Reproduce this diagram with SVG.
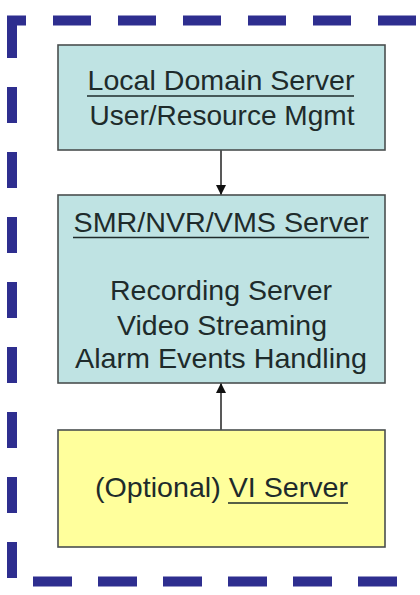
<svg xmlns="http://www.w3.org/2000/svg" width="420" height="595" viewBox="0 0 420 595">
<defs>
<style>
.frame{fill:none;stroke:#2e2e8f;stroke-width:10}
.box{stroke:#4a4f4f;stroke-width:1.6}
.cyan{fill:#bfe3e3}
.yellow{fill:#ffff9c}
.t{font-family:"Liberation Sans",Arial,sans-serif;font-size:28px;fill:#1e2b2b;text-anchor:middle}
.u{stroke:#1e2b2b;stroke-width:1.6}
.conn{stroke:#222;stroke-width:1.5;fill:none}
</style>
<marker id="ah" viewBox="0 0 10 10" refX="10" refY="5" markerWidth="10" markerHeight="10" markerUnits="userSpaceOnUse" orient="auto">
<path d="M0,0 L10,5 L0,10 z" fill="#111"/>
</marker>
</defs>
<rect width="420" height="595" fill="#ffffff"/>
<g id="frame">
<path class="frame" d="M12,58 L12,20.5 L26,20.5" stroke-linejoin="miter"/>
<line class="frame" x1="53" y1="20.5" x2="420" y2="20.5" stroke-dasharray="38 27"/>
<line class="frame" x1="12" y1="87" x2="12" y2="580" stroke-dasharray="36 29"/>
<line class="frame" x1="33" y1="581.5" x2="420" y2="581.5" stroke-dasharray="39 26"/>
</g>
<g id="connectors">
<line class="conn" x1="221" y1="150" x2="221" y2="195" marker-end="url(#ah)"/>
<line class="conn" x1="221" y1="430" x2="221" y2="383" marker-end="url(#ah)"/>
</g>
<g id="local-domain-server">
<rect class="box cyan" x="58" y="45" width="327" height="105"/>
<text class="t" x="221" y="90" textLength="267" lengthAdjust="spacingAndGlyphs">Local Domain Server</text>
<line class="u" x1="87" y1="96" x2="354" y2="96"/>
<text class="t" x="222" y="125" textLength="265" lengthAdjust="spacingAndGlyphs">User/Resource Mgmt</text>
</g>
<g id="smr-server">
<rect class="box cyan" x="58" y="195" width="327" height="188"/>
<text class="t" x="221" y="232" textLength="295" lengthAdjust="spacingAndGlyphs">SMR/NVR/VMS Server</text>
<line class="u" x1="73" y1="237.5" x2="369" y2="237.5"/>
<text class="t" x="221" y="300" textLength="222" lengthAdjust="spacingAndGlyphs">Recording Server</text>
<text class="t" x="222" y="335" textLength="210" lengthAdjust="spacingAndGlyphs">Video Streaming</text>
<text class="t" x="221" y="368" textLength="292" lengthAdjust="spacingAndGlyphs">Alarm Events Handling</text>
</g>
<g id="vi-server">
<rect class="box yellow" x="58" y="430" width="327" height="117"/>
<text class="t" x="221.5" y="497" textLength="253" lengthAdjust="spacingAndGlyphs">(Optional) VI Server</text>
<line class="u" x1="228" y1="503" x2="348" y2="503"/>
</g>
</svg>
